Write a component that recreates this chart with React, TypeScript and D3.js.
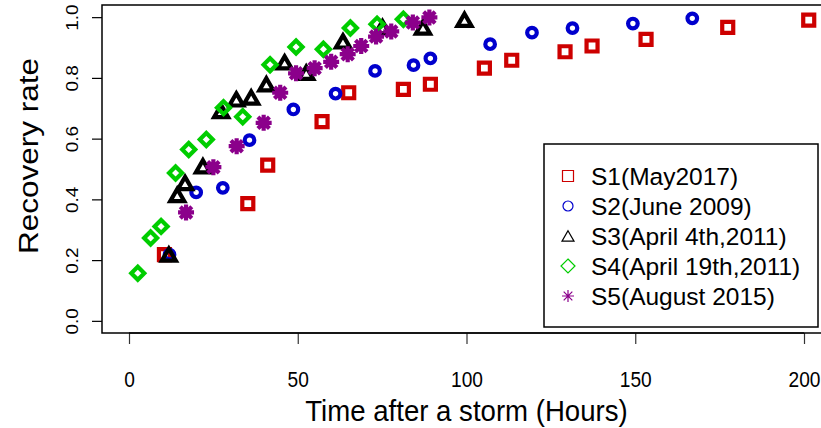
import React, { useEffect, useRef } from "react";
import * as d3 from "d3";

// hours after the storm / recovery rate
const s1Hours = [10.5, 35.2, 41.1, 57.2, 65.1, 81.3, 89.3, 105.3, 113.4, 129.2, 137.2, 153.2, 177.4, 201.4];
const s1Rate = [0.218, 0.386, 0.513, 0.656, 0.751, 0.762, 0.779, 0.832, 0.858, 0.886, 0.905, 0.927, 0.966, 0.99];

const s2Hours = [12, 19.9, 27.8, 35.7, 48.7, 61.2, 72.9, 84.3, 89.3, 107, 119.4, 131.4, 149.3, 166.9];
const s2Rate = [0.218, 0.423, 0.438, 0.595, 0.696, 0.748, 0.823, 0.842, 0.864, 0.911, 0.949, 0.964, 0.979, 0.996];

const s3Hours = [11.8, 14.3, 16.6, 21.9, 27.3, 31.8, 36.2, 40.7, 46.1, 52.5, 63.4, 75.1, 87.1, 99.4];
const s3Rate = [0.218, 0.414, 0.454, 0.509, 0.691, 0.729, 0.735, 0.779, 0.851, 0.817, 0.92, 0.967, 0.966, 0.991];

const s4Hours = [2.6, 6.4, 9.5, 13.8, 17.7, 22.9, 28, 33.7, 41.8, 49.5, 57.6, 65.6, 73.5, 81.3];
const s4Rate = [0.157, 0.273, 0.311, 0.487, 0.564, 0.597, 0.702, 0.672, 0.843, 0.902, 0.894, 0.964, 0.977, 0.993];

const s5Hours = [16.9, 25, 31.9, 39.9, 44.8, 49.5, 55, 59.9, 64.8, 68.8, 73.2, 77.7, 84.1, 89];
const s5Rate = [0.357, 0.506, 0.575, 0.652, 0.751, 0.815, 0.832, 0.853, 0.878, 0.905, 0.936, 0.953, 0.982, 0.999];

const seriesNames = ["S1(May2017)", "S2(June 2009)", "S3(April 4th,2011)", "S4(April 19th,2011)", "S5(August 2015)"];
const seriesColors = ["#cd0000", "#0000cd", "#000000", "#00cd00", "#8b008b"];
const seriesShapes = ["square", "circle", "triangle", "diamond", "star"];

const xTicks = [0, 50, 100, 150, 200];
const yTicks = [0, 0.2, 0.4, 0.6, 0.8, 1.0];

const FONT = "'Liberation Sans', Arial, sans-serif";

// R-like pch outlines, size = rough half width
const markerPath = (shape: string, s: number) => {
  const p = d3.path();
  if (shape === "square") {
    p.rect(-s, -s, 2 * s, 2 * s);
  } else if (shape === "circle") {
    p.arc(0, 0, s, 0, 2 * Math.PI);
  } else if (shape === "triangle") {
    const h = s * 1.732;
    p.moveTo(0, -h / 2);
    p.lineTo(s, h / 2);
    p.lineTo(-s, h / 2);
    p.closePath();
  } else if (shape === "diamond") {
    p.moveTo(0, -s);
    p.lineTo(s, 0);
    p.lineTo(0, s);
    p.lineTo(-s, 0);
    p.closePath();
  } else {
    const d = s * 0.72;
    p.moveTo(-s, 0); p.lineTo(s, 0);
    p.moveTo(0, -s); p.lineTo(0, s);
    p.moveTo(-d, -d); p.lineTo(d, d);
    p.moveTo(-d, d); p.lineTo(d, -d);
  }
  return p.toString();
};

const App = () => {
  const chartRef = useRef<SVGSVGElement | null>(null);

  useEffect(() => {
    drawChart();
  }, []);

  const drawChart = () => {
    const width = 821, height = 428;
    const plot = { left: 102, top: 5, right: 831, bottom: 333 };

    const svg = d3.select(chartRef.current);
    svg.selectAll("*").remove();

    const x = d3.scaleLinear().domain([-8, 208]).range([plot.left, plot.right]);
    const y = d3.scaleLinear().domain([-0.04, 1.04]).range([plot.bottom, plot.top]);

    svg.append("rect")
      .attr("width", width)
      .attr("height", height)
      .attr("fill", "#ffffff");

    // x axis (labels a bit condensed, like the original)
    const xAxis = svg.append("g")
      .attr("transform", `translate(0,${plot.bottom})`)
      .call(d3.axisBottom(x).tickValues(xTicks).tickSize(11).tickPadding(27).tickFormat(d3.format("d")));
    xAxis.select(".domain").remove();
    xAxis.selectAll(".tick line").attr("stroke", "#333").attr("stroke-width", 1.2);
    xAxis.selectAll("text")
      .attr("transform", "scale(0.87,1)")
      .attr("font-family", FONT)
      .attr("font-size", 22)
      .attr("fill", "#000");
    xAxis.append("line")
      .attr("x1", x(0)).attr("x2", x(200))
      .attr("stroke", "#222").attr("stroke-width", 1.5);

    // y axis
    const yAxis = svg.append("g")
      .attr("transform", `translate(${plot.left},0)`)
      .call(d3.axisLeft(y).tickValues(yTicks).tickSize(10).tickFormat(d3.format(".1f")));
    yAxis.select(".domain").remove();
    yAxis.selectAll(".tick line").attr("stroke", "#000").attr("stroke-width", 1.2);
    yAxis.selectAll("text")
      .attr("x", 0)
      .attr("dy", "0.35em")
      .attr("transform", "translate(-30,0) rotate(-90) scale(1,0.9)")
      .attr("text-anchor", "middle")
      .attr("font-family", FONT)
      .attr("font-size", 19)
      .attr("fill", "#000");

    // plot box
    svg.append("rect")
      .attr("x", plot.left)
      .attr("y", plot.top)
      .attr("width", plot.right - plot.left)
      .attr("height", plot.bottom - plot.top)
      .attr("fill", "none")
      .attr("stroke", "#000")
      .attr("stroke-width", 1.5);

    // axis titles
    svg.append("text")
      .attr("transform", `translate(${(plot.left + plot.right) / 2},421) scale(0.92,1)`)
      .attr("text-anchor", "middle")
      .attr("font-family", FONT)
      .attr("font-size", 30)
      .text("Time after a storm (Hours)");

    svg.append("text")
      .attr("transform", "translate(38,156) rotate(-90) scale(1,0.88)")
      .attr("text-anchor", "middle")
      .attr("font-family", FONT)
      .attr("font-size", 31.5)
      .text("Recovery rate");

    // points
    const allHours = [s1Hours, s2Hours, s3Hours, s4Hours, s5Hours];
    const allRates = [s1Rate, s2Rate, s3Rate, s4Rate, s5Rate];
    const sizes = [5.5, 4.8, 7, 6.5, 8];

    allHours.forEach((hours, si) => {
      const pts = hours.map((h, i) => ({ h, r: allRates[si][i] }));
      svg.append("g")
        .selectAll("path")
        .data(pts)
        .join("path")
        .attr("transform", d => `translate(${x(d.h)},${y(d.r)})`)
        .attr("d", markerPath(seriesShapes[si], sizes[si]))
        .attr("fill", "none")
        .attr("stroke", seriesColors[si])
        .attr("stroke-width", 4.2)
        .attr("stroke-linejoin", "miter");
    });

    // legend
    const legend = svg.append("g");
    legend.append("rect")
      .attr("x", 544)
      .attr("y", 144)
      .attr("width", 274)
      .attr("height", 183)
      .attr("fill", "#fff")
      .attr("stroke", "#000")
      .attr("stroke-width", 1.5);

    const legendSizes = [5.5, 5, 6, 7, 6];
    seriesNames.forEach((name, i) => {
      const row = legend.append("g").attr("transform", `translate(568,${176 + i * 30})`);
      row.append("path")
        .attr("d", markerPath(seriesShapes[i], legendSizes[i]))
        .attr("fill", "none")
        .attr("stroke", seriesColors[i])
        .attr("stroke-width", 1.2);
      row.append("text")
        .attr("x", 23)
        .attr("dy", "0.36em")
        .attr("font-family", FONT)
        .attr("font-size", 24.5)
        .text(name);
    });
  };

  return (
    <svg ref={chartRef} width={821} height={428} style={{ position: "absolute", left: 0, top: 0 }} />
  );
};

export default App;
